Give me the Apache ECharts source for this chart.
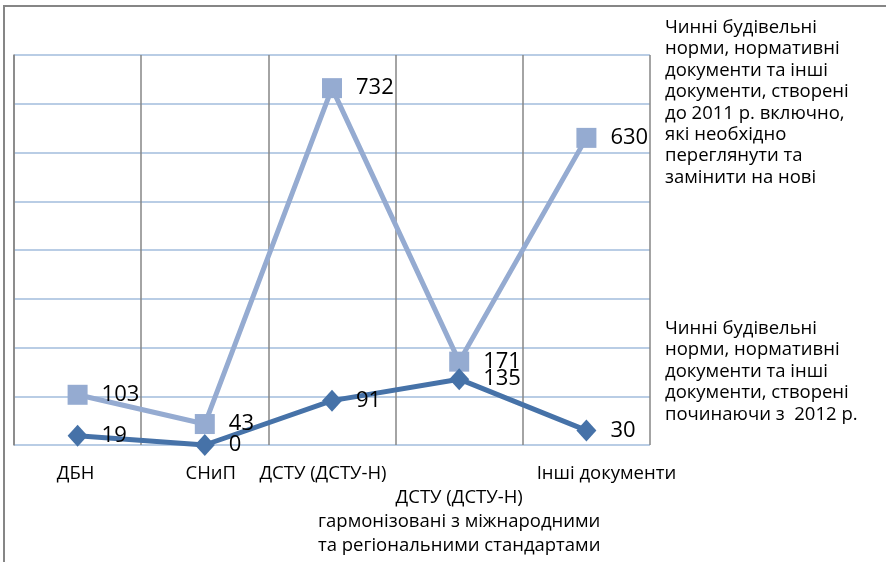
<!DOCTYPE html>
<html><head><meta charset="utf-8">
<script src="https://cdn.jsdelivr.net/npm/echarts@6/dist/echarts.min.js"></script>
<style>html,body{margin:0;padding:0;background:#fff}#c{width:886px;height:562px}</style>
</head><body><div id="c"></div>
<script>
const categories = ['ДБН', 'СНиП', 'ДСТУ (ДСТУ-Н)', '\nДСТУ (ДСТУ-Н)\nгармонізовані з міжнародними\nта регіональними стандартами', 'Інші документи'];
const seriesOldName = 'Чинні будівельні норми, нормативні документи та інші документи, створені до 2011 р. включно, які необхідно переглянути та замінити на нові';
const seriesNewName = 'Чинні будівельні норми, нормативні документи та інші документи, створені починаючи з  2012 р.';
const seriesOldLines = ['Чинні будівельні', 'норми, нормативні', 'документи та інші', 'документи, створені', 'до 2011 р. включно,', 'які необхідно', 'переглянути та', 'замінити на нові'];
const seriesNewLines = ['Чинні будівельні', 'норми, нормативні', 'документи та інші', 'документи, створені', 'починаючи з  2012 р.'];
const seriesOld = [103, 43, 732, 171, 630];
const seriesNew = [19, 0, 91, 135, 30];

const FONT = 'Open Sans';
const labelPads = [[0, 4, 0, 0], [0, 0, 0, 12], [0, 18, 0, 0], [0, 0, 0, 0], [0, 0, 0, 40]];
const chart = echarts.init(document.getElementById('c'));
chart.setOption({
  animation: false,
  backgroundColor: '#fff',
  textStyle: { fontFamily: FONT },
  graphic: [{
    type: 'rect', shape: { x: 4, y: 6, width: 1000, height: 1000 },
    style: { fill: 'none', stroke: '#868686', lineWidth: 2 }, z: -10
  }],
  grid: { left: 14, right: 236, top: 55, bottom: 117 },
  legend: [
    { data: [seriesOldName], orient: 'vertical', left: 660, top: 17, padding: 0, icon: 'none', itemWidth: 0, itemHeight: 0,
      formatter: () => seriesOldLines.join('\n'),
      textStyle: { fontSize: 18.5, lineHeight: 21.4, color: '#000', fontFamily: FONT } },
    { data: [seriesNewName], orient: 'vertical', left: 660, top: 318, padding: 0, icon: 'none', itemWidth: 0, itemHeight: 0,
      formatter: () => seriesNewLines.join('\n'),
      textStyle: { fontSize: 18.5, lineHeight: 21.4, color: '#000', fontFamily: FONT } }
  ],
  xAxis: {
    type: 'category', boundaryGap: true,
    data: categories.map((c, i) => ({ value: c, textStyle: { padding: labelPads[i] } })),
    axisLine: { show: false }, axisTick: { show: false },
    axisLabel: { interval: 0, color: '#000', fontSize: 18.5, lineHeight: 24, margin: 17, fontFamily: FONT },
    splitLine: { show: true, lineStyle: { color: '#868686', width: 1.5 } }
  },
  yAxis: {
    type: 'value', min: 0, max: 800, interval: 100,
    axisLabel: { show: false }, axisTick: { show: false },
    axisLine: { show: true, lineStyle: { color: '#868686', width: 1.5 } },
    splitLine: { lineStyle: { color: '#b9cde5', width: 2 } }
  },
  series: [
    { name: seriesOldName, type: 'line', data: seriesOld,
      symbol: 'rect', symbolSize: 20,
      lineStyle: { color: '#95abd1', width: 5 }, itemStyle: { color: '#95abd1' },
      label: { show: true, position: 'right', distance: 14, color: '#000', fontSize: 22, fontFamily: FONT } },
    { name: seriesNewName, type: 'line', data: seriesNew,
      symbol: 'diamond', symbolSize: [20, 22],
      lineStyle: { color: '#4672a8', width: 5 }, itemStyle: { color: '#4672a8' },
      label: { show: true, position: 'right', distance: 14, color: '#000', fontSize: 22, fontFamily: FONT } }
  ]
});
</script></body></html>
